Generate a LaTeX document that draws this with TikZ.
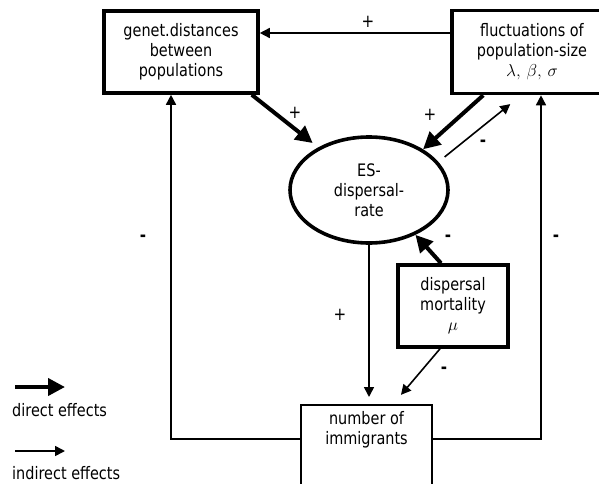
\documentclass[tikz,border=0pt]{standalone}
\usepackage{fontspec}
\setmainfont{DejaVu Sans}[FakeStretch=0.84]
\usetikzlibrary{arrows.meta,shapes.geometric}
\begin{document}
\begin{tikzpicture}[x=1pt,y=-1pt,
  every node/.style={font=\fontsize{17.2}{20}\selectfont, align=center},
  thickbox/.style={draw, line width=3.6pt, inner sep=0pt},
  thinbox/.style={draw, line width=1.6pt, inner sep=0pt},
  dirarrow/.style={line width=4pt, -{Triangle[length=17pt,width=17pt]}},
  indarrow/.style={line width=1.6pt, -{Triangle[length=10pt,width=10pt]}},
  loopline/.style={line width=1.6pt},
  plussign/.style={font=\fontsize{18}{20}\selectfont, inner sep=0pt},
  minussign/.style={font=\fontsize{18}{20}\selectfont\bfseries, inner sep=0pt}
]
\useasboundingbox (0,0) rectangle (599,484);
\clip (0,0) rectangle (599,484);

% nodes
\node[thickbox, minimum width=154pt, minimum height=82pt] (genet) at (181,52)
  {genet.distances\\between\\populations};
\node[thickbox, minimum width=160pt, minimum height=83pt] (fluct) at (532,52)
  {fluctuations of\\population-size\\$\lambda,\, \beta,\, \sigma$};
\node[ellipse, draw, line width=3.6pt, inner sep=0pt, minimum width=158pt, minimum height=106pt] (es) at (369,190)
  {ES-\\dispersal-\\rate};
\node[thickbox, minimum width=110pt, minimum height=82pt] (mort) at (453,306)
  {dispersal\\mortality\\$\mu$};
\node[thinbox, anchor=north, minimum width=131pt, inner ysep=7pt, text depth=100pt] (imm) at (366.5,404)
  {number of\\immigrants};

% legend
\coordinate (l1a) at (15,387);
\coordinate (l1b) at (65,387);
\coordinate (l2a) at (15,451);
\coordinate (l2b) at (65,451);
\draw[dirarrow] (l1a) -- (l1b);
\draw[indarrow] (l2a) -- (l2b);
\node[anchor=west, inner sep=0pt] (ldir) at (12,410) {direct effects};
\node[anchor=west, inner sep=0pt] (lind) at (12,473) {indirect effects};

% connectors
\draw[indarrow] ([yshift=19pt]fluct.west) -- ([yshift=19pt]genet.east);
\draw[dirarrow, shorten >=7pt] ([xshift=-8pt]genet.south east) -- (es.140);
\draw[dirarrow] ([xshift=33pt]fluct.south west) -- (es.37);
\draw[indarrow, shorten <=8pt, shorten >=14pt] (es.22) -- ([xshift=71pt]fluct.south west);
\draw[dirarrow] ([xshift=-12pt]mort.north) -- (es.316);
\draw[indarrow, shorten >=7pt] (es.south) -- (es.south |- imm.north);
\draw[indarrow, shorten >=12pt] ([xshift=-13pt]mort.south) -- ([xshift=93pt]imm.north west);
\draw[loopline, -{Triangle[length=10pt,width=10pt]}] ([yshift=-35pt]imm.north west) -| ([xshift=-10pt]genet.south);
\draw[loopline, -{Triangle[length=10pt,width=10pt]}] ([yshift=-35pt]imm.north east) -| ([xshift=9pt]fluct.south);

% signs
\node[plussign] (s1) at (368,22) {+};
\node[plussign] (s2) at (295,113) {+};
\node[plussign] (s3) at (430,115) {+};
\node[minussign] (s4) at (483,143) {-};
\node[minussign] (s5) at (143,238) {-};
\node[minussign] (s6) at (448,238) {-};
\node[minussign] (s7) at (556,238) {-};
\node[plussign] (s8) at (340,315) {+};
\node[minussign] (s9) at (444,370) {-};
\end{tikzpicture}
\end{document}
